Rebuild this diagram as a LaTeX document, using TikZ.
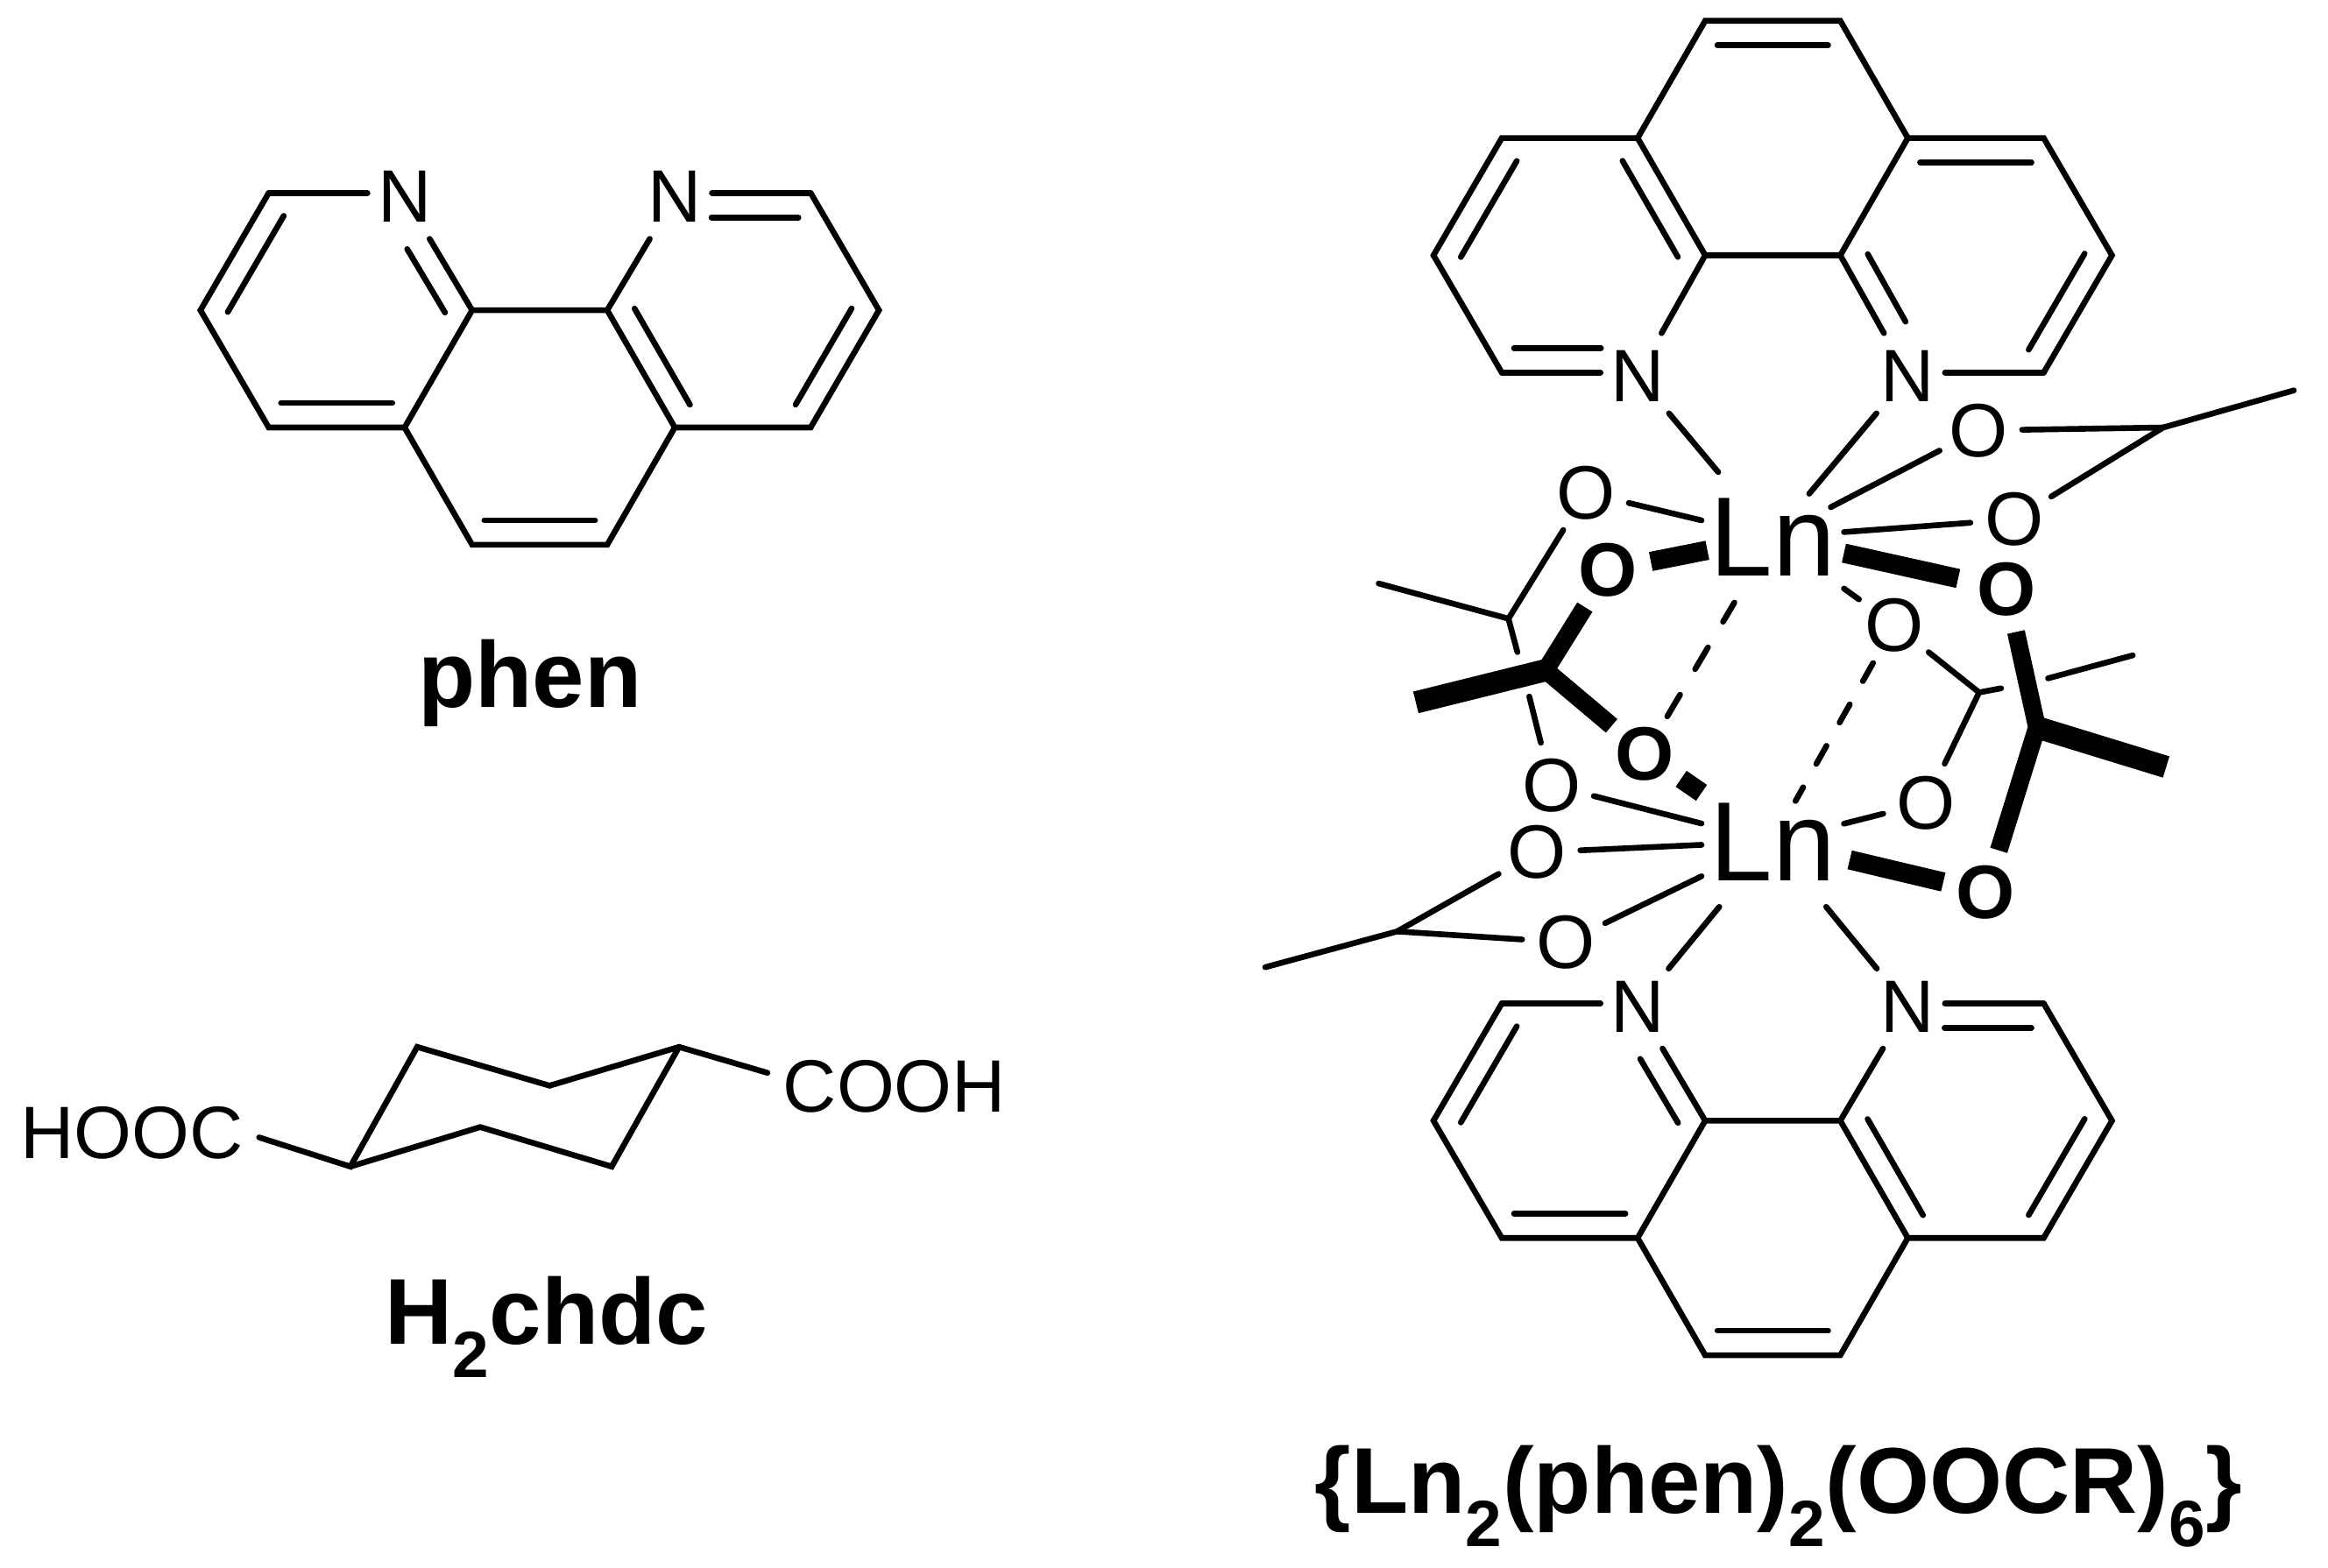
\documentclass[tikz,border=0pt]{standalone}
\usepackage{fontspec}
\setmainfont{Liberation Sans}
\usetikzlibrary{calc}
\newcommand{\inbond}[5]{\draw ($(#1)!#3!(#2)!16.5pt!#5:(#2)$) -- ($(#1)!#4!(#2)!16.5pt!#5:(#2)$);}
\tikzset{
 atomN/.style={circle,inner sep=0pt,minimum size=62pt,font=\fontsize{50}{60}\selectfont},
 atomO/.style={circle,inner sep=0pt,minimum size=55pt,font=\fontsize{51}{60}\selectfont},
 atomOb/.style={atomO,font=\fontsize{51}{60}\selectfont\bfseries},
 metal/.style={rectangle,inner sep=0pt,minimum width=92pt,minimum height=84pt,font=\fontsize{76}{90}\selectfont},
 group/.style={inner sep=0pt,font=\fontsize{50}{60}\selectfont},
 title/.style={inner sep=0pt,font=\fontsize{63}{75}\selectfont\bfseries},
 wedge/.style={line width=13pt,line cap=butt},
 dashA/.style={dash pattern=on 17pt off 20pt},
 dashB/.style={dash pattern=on 14pt off 18pt},
 pics/phenmol/.style={code={
  \coordinate (a1) at (-182.5,-79);
  \coordinate (a2) at (-228.5,0);
  \coordinate (a3) at (-182.5,79);
  \coordinate (a4) at (-91,79);
  \coordinate (a5) at (-45.5,0);
  \coordinate (b5) at (45.5,0);
  \coordinate (b4) at (91,79);
  \coordinate (b3) at (182.5,79);
  \coordinate (b2) at (228.5,0);
  \coordinate (b1) at (182.5,-79);
  \coordinate (c1) at (-45.5,158);
  \coordinate (c2) at (45.5,158);
  \node[atomN] (n1) at (-91,#1) {N};
  \node[atomN] (n2) at (91,#1) {N};
  \coordinate (h1) at (a1 -| n1);
  \coordinate (h2) at (b1 -| n2);
  \draw[shorten >=25pt] (a1) -- (h1);
  \draw (a1) -- (a2) -- (a3) -- (a4) -- (a5) -- (b5) -- (b4) -- (b3) -- (b2) -- (b1);
  \draw[shorten >=25pt] (b1) -- (h2);
  \draw (n1) -- (a5);
  \draw (n2) -- (b5);
  \draw (a4) -- (c1) -- (c2) -- (b4);
  \inbond{a1}{a2}{0.09}{0.91}{90}
  \inbond{a3}{a4}{0.09}{0.91}{90}
  \inbond{n1}{a5}{0.35}{0.91}{-90}
  \inbond{b5}{b4}{0.09}{0.91}{90}
  \inbond{b2}{b3}{0.09}{0.91}{-90}
  \inbond{h2}{b1}{0.27}{0.91}{-90}
  \inbond{c1}{c2}{0.09}{0.91}{90}
 }}
}
\begin{document}
\begin{tikzpicture}[x=1pt,y=-1pt,line width=3.9pt,line cap=round]
 \useasboundingbox (0,0) rectangle (1568,1056);
 \pic (lm) at (363.5,209) {phenmol=-76.4};
 \pic[rotate=180] (tm) at (1194,172) {phenmol=-81.2};
 \pic (bm) at (1194,755) {phenmol=-77};
 \node[title] (phen) at (357,460) {phen};
 \node[title] (chdc) at (368,894) {H\textsubscript{2}chdc};
 \node[title] (cplx) at (1198,1008) {\{Ln\textsubscript{2}(phen)\textsubscript{2}(OOCR)\textsubscript{6}\}};
 \node[group] (hooc) at (89,763.5) {HOOC};
 \node[group] (cooh) at (602.5,732) {COOH};
 \coordinate (r1) at (236,785.9);
 \coordinate (r2) at (281,705.3);
 \coordinate (r3) at (370.2,731.4);
 \coordinate (r4) at (457.4,705.3);
 \coordinate (r5) at (412,785.9);
 \coordinate (r6) at (323.5,759.3);
 \draw[shorten <=9pt,shorten >=9pt] (hooc.east) -- (r1) -- (r2) -- (r3) -- (r4) -- (cooh.175);
 \draw (r1) -- (r6) -- (r5) -- (r4);
 \node[metal] (ln1) at (1194,362) {Ln};
 \node[metal] (ln2) at (1194,567) {Ln};
 \node[atomO] (o1) at (1332.5,290) {O};
 \node[atomO] (o2) at (1356.5,350) {O};
 \node[atomO] (o3) at (1068.4,332) {O};
 \node[atomO] (o4) at (1276,421) {O};
 \node[atomO] (o5) at (1045,529) {O};
 \node[atomO] (o6) at (1297,541) {O};
 \node[atomO] (o7) at (1035,574.2) {O};
 \node[atomO] (o8) at (1054.6,634.8) {O};
 \node[atomOb] (ob1) at (1083,384) {O};
 \node[atomOb] (ob2) at (1351.5,397) {O};
 \node[atomOb] (ob3) at (1108,508) {O};
 \node[atomOb] (ob4) at (1337.5,601) {O};
 \coordinate (ct) at (1457,288);
 \coordinate (cl) at (1016,416.8);
 \coordinate (cr) at (1333,466.5);
 \coordinate (cb) at (941,627.5);
 \coordinate (bl) at (1041,451.5);
 \coordinate (br) at (1372,490);
 \coordinate (mt) at (1545,263);
 \coordinate (ml) at (928.6,393.1);
 \coordinate (mr) at (1436.5,441.5);
 \coordinate (mb) at (852.2,651.6);
 \coordinate (mbl) at (953.6,473.2);
 \coordinate (mbr) at (1459,516.7);
 \coordinate (gl1) at (1022,439.3);
 \coordinate (gl2) at (1030,469.2);
 \coordinate (gr1) at (1347.8,463.7);
 \coordinate (gr2) at (1379.4,457);
 \draw (tmn2) -- (ln1);
 \draw[shorten >=-19pt] (tmn1) -- (ln1);
 \draw (bmn1) -- (ln2);
 \draw (bmn2) -- (ln2);
 \draw[shorten >=-10pt] (o1) -- (ln1);
 \draw (o2) -- (ln1);
 \draw (o3) -- (ln1);
 \draw (o4) -- (ln1);
 \draw (o5) -- (ln2);
 \draw (o6) -- (ln2);
 \draw (o7) -- (ln2);
 \draw (o8) -- (ln2);
 \draw (o1) -- (ct);
 \draw (o2) -- (ct) -- (mt);
 \draw (o3) -- (cl) -- (ml);
 \draw (cl) -- (gl1);
 \draw (gl2) -- (o5);
 \draw (o4) -- (cr) -- (gr1);
 \draw (gr2) -- (mr);
 \draw (cr) -- (o6);
 \draw (o7) -- (cb) -- (mb);
 \draw (cb) -- (o8);
 \draw[dashA] (ob3) -- (ln1);
 \draw[dashB,shorten >=-19pt] (o4) -- (ln2);
 \draw[wedge,shorten >=-4pt] (ob1) -- (ln1);
 \draw[wedge,shorten >=4pt] (ln1) -- (ob2);
 \draw[wedge] (ob3) -- (ln2);
 \draw[wedge,shorten <=4pt] (ln2) -- (ob4);
 \draw[wedge,line width=15pt] (mbl) -- (bl);
 \draw[wedge,line width=12pt] (ob1) -- (bl) -- (ob3);
 \draw[wedge,line width=12pt] (ob2) -- (br) -- (ob4);
 \draw[wedge,line width=15pt] (mbr) -- (br);
\end{tikzpicture}
\end{document}
